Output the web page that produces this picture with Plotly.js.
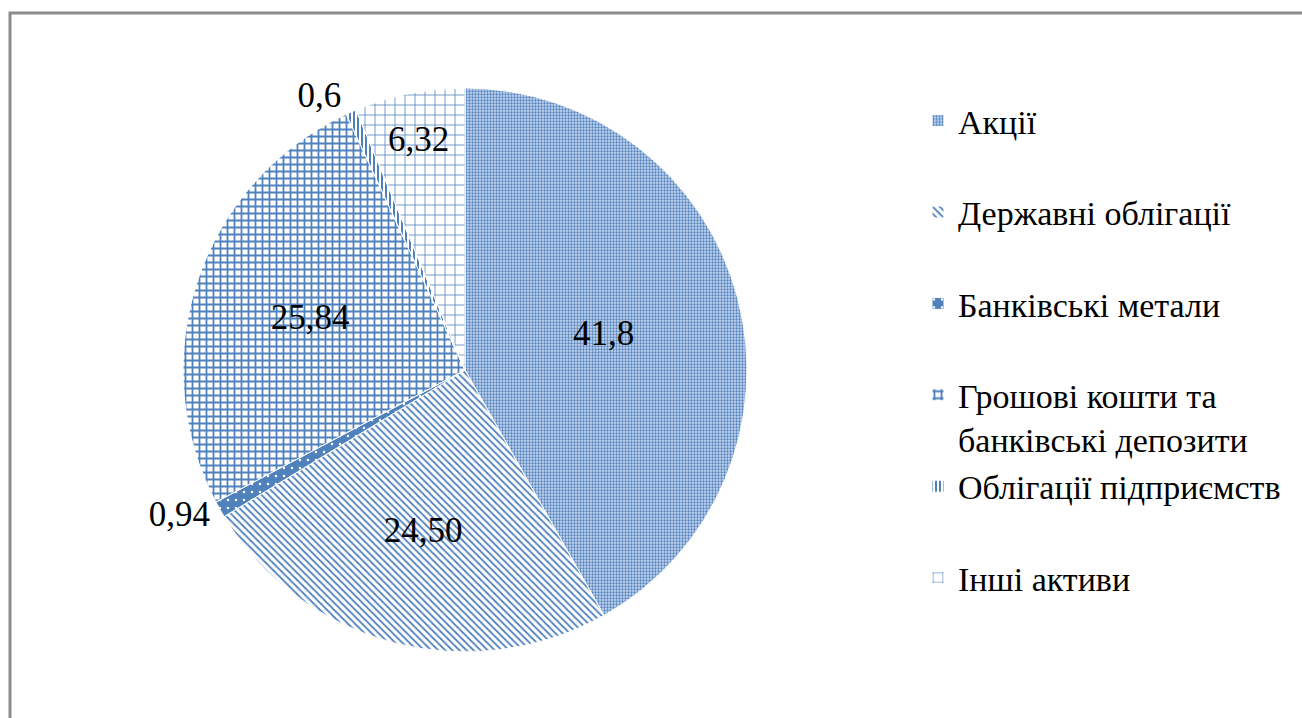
<!DOCTYPE html>
<html>
<head>
<meta charset="utf-8">
<script src="https://cdn.plot.ly/plotly-3.0.1.min.js"></script>
<style>html,body{margin:0;padding:0;background:#fff;}#chart{width:1302px;height:718px;}</style>
</head>
<body>
<div id="chart"></div>
<script>
var categories = ["Акції", "Державні облігації", "Банківські метали", "Грошові кошти та<br>банківські депозити", "Облігації підприємств", "Інші активи"];
var values = [41.8, 24.50, 0.94, 25.84, 0.6, 6.32];
var valueLabels = ["41,8", "24,50", "0,94", "25,84", "0,6", "6,32"];

var blue = "#4f81bd";
var patterns = [
  {shape: ".", fgcolor: blue, bgcolor: "#c6d6ee", size: 3, solidity: 0.45},
  {shape: "\\", fgcolor: blue, bgcolor: "#ffffff", size: 5, solidity: 0.35},
  {shape: ".", fgcolor: "#ffffff", bgcolor: blue, size: 8, solidity: 0.08},
  {shape: "+", fgcolor: blue, bgcolor: "#ffffff", size: 7, solidity: 0.45},
  {shape: "|", fgcolor: blue, bgcolor: "#ffffff", size: 4, solidity: 0.5},
  {shape: "+", fgcolor: blue, bgcolor: "#ffffff", size: 10, solidity: 0.15}
];

var serif = "Times New Roman";
var legendText = categories.map(function (c) {
  return c.indexOf("<br>") >= 0 ? c : c + "<br> ";
});

var W = 1302, H = 718, cx = 465, cy = 370, R = 282;

var trace = {
  type: "pie",
  labels: legendText,
  values: values,
  text: valueLabels,
  textinfo: "text",
  textposition: ["inside", "inside", "outside", "inside", "outside", "inside"],
  insidetextorientation: "horizontal",
  textfont: {family: serif, size: 35, color: "#000"},
  outsidetextfont: {family: serif, size: 35, color: "#000"},
  sort: false,
  direction: "clockwise",
  rotation: 0,
  automargin: false,
  domain: {x: [(cx - R) / W, (cx + R) / W], y: [1 - (cy + R) / H, 1 - (cy - R) / H]},
  marker: {
    colors: patterns.map(function (p) { return p.bgcolor; }),
    pattern: {
      shape: patterns.map(function (p) { return p.shape; }),
      fgcolor: patterns.map(function (p) { return p.fgcolor; }),
      bgcolor: patterns.map(function (p) { return p.bgcolor; }),
      size: patterns.map(function (p) { return p.size; }),
      solidity: patterns.map(function (p) { return p.solidity; }),
      fillmode: "replace"
    },
    line: {color: "#ffffff", width: 1}
  },
  hoverinfo: "label+value"
};

var layout = {
  width: W, height: H,
  margin: {l: 0, r: 0, t: 0, b: 0, autoexpand: false},
  paper_bgcolor: "#ffffff",
  font: {family: serif},
  showlegend: true,
  legend: {
    x: 918 / W, y: 1 - 92 / H, xanchor: "left", yanchor: "top",
    font: {family: serif, size: 34, color: "#000"},
    valign: "top",
    itemwidth: 30,
    bgcolor: "rgba(0,0,0,0)",
    traceorder: "normal"
  },
  shapes: [{
    type: "rect", xref: "paper", yref: "paper",
    x0: 10 / W, x1: 1.05, y0: -0.05, y1: 1 - 13 / H,
    line: {color: "#8c8c8c", width: 3}, fillcolor: "rgba(0,0,0,0)"
  }]
};

Plotly.newPlot("chart", [trace], layout, {displayModeBar: false, staticPlot: true});
</script>
</body>
</html>
